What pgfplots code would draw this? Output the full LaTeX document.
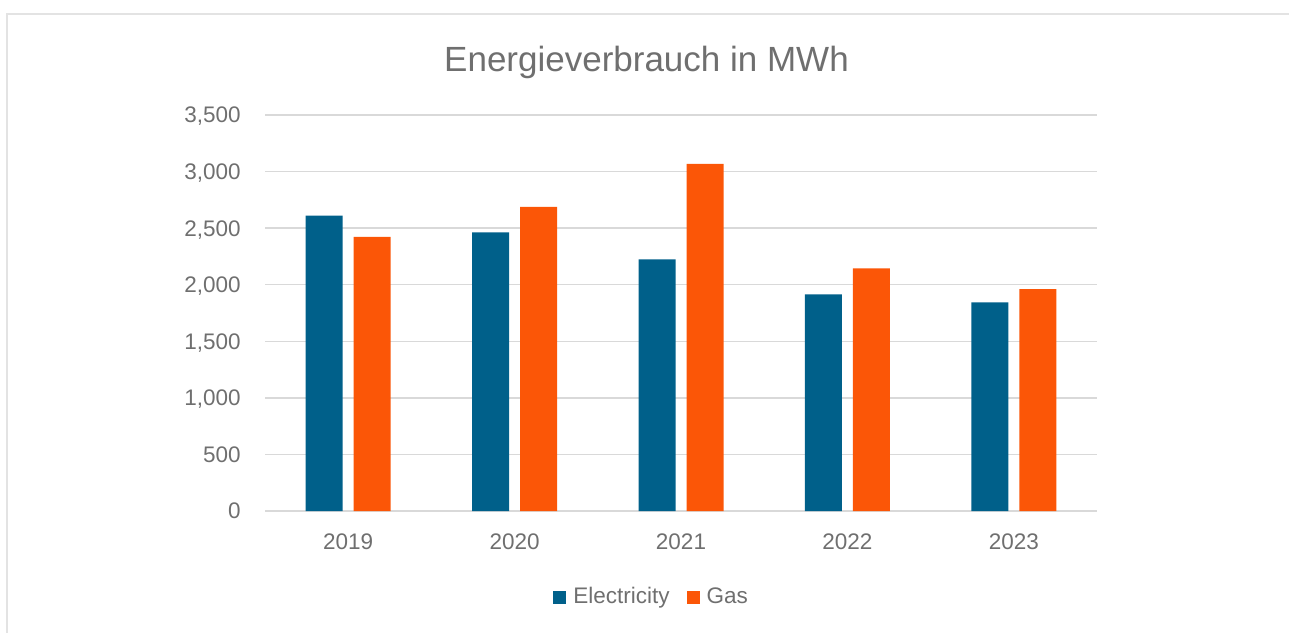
\documentclass[border=0pt]{standalone}
\usepackage{fontspec}
\setmainfont{Liberation Sans}
\usepackage{pgfplots}
\pgfplotsset{compat=1.18}
\definecolor{elec}{HTML}{00608A}
\definecolor{gas}{HTML}{FB5607}
\definecolor{txt}{HTML}{6F6F6F}
\definecolor{gridc}{HTML}{D9D9D9}
\definecolor{framec}{HTML}{E3E3E3}

\begin{document}
\begin{tikzpicture}
% page = 1289 x 633 px, 1px = 0.5pt
\path[use as bounding box] (0,0) rectangle (644.5pt,316.5pt);
\draw[framec, line width=0.8pt] (3.6pt,0) -- (3.6pt,309.4pt) -- (644.5pt,309.4pt);
\node[txt, font=\fontsize{17.5}{21}\selectfont] at (323.25pt,285.5pt) {Energieverbrauch in MWh};
\begin{axis}[
  at={(132.5pt,61pt)}, anchor=south west,
  scale only axis, width=416pt, height=198pt,
  ybar=5.5pt, bar width=18.5pt,
  xmin=-0.5, xmax=4.5, ymin=0, ymax=3500,
  xtick={0,1,2,3,4}, xticklabels={2019,2020,2021,2022,2023},
  ytick={0,500,...,3500},
  scaled y ticks=false,
  /pgf/number format/assume math mode=true,
  /pgf/number format/1000 sep={,},
  axis line style={draw=none},
  major tick length=0pt,
  ymajorgrids, grid style={gridc, line width=0.65pt},
  tick label style={txt, font=\fontsize{11.25}{13}\selectfont, text depth=0pt, inner sep=0pt},
  yticklabel style={anchor=east, xshift=-12pt},
  xticklabel style={anchor=north, yshift=-11pt},
  legend style={at={(0.466,-0.218)}, anchor=center, draw=none, fill=none,
    legend columns=2, font=\fontsize{11.25}{13}\selectfont, text=txt,
    /tikz/every odd column/.append style={column sep=1.5pt},
    /tikz/every even column/.append style={column sep=6.5pt}},
  legend image code/.code={\fill[#1] (0pt,-3.25pt) rectangle (6.5pt,3.25pt);},
]
\addplot[fill=elec, draw=none] coordinates {(0,2610) (1,2463) (2,2225) (3,1915) (4,1845)};
\addplot[fill=gas, draw=none] coordinates {(0,2422) (1,2687) (2,3067) (3,2145) (4,1962)};
\legend{Electricity, Gas}
\end{axis}
\end{tikzpicture}
\end{document}
